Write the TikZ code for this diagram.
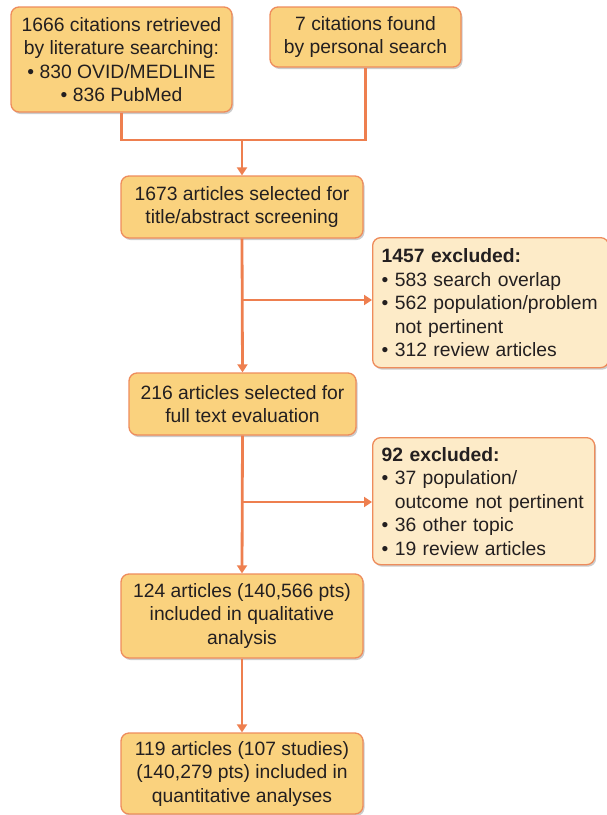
\documentclass[tikz,border=0pt]{standalone}
\usepackage{fontspec}
\setmainfont{Liberation Sans}
\usepackage{tikz}
\usepackage{xcolor}
\usetikzlibrary{arrows.meta,positioning,shadows}
\definecolor{gold}{HTML}{FAD27E}
\definecolor{cream}{HTML}{FDEBC8}
\definecolor{rim}{HTML}{EE8C5C}
\definecolor{flow}{HTML}{EE7F4F}
\definecolor{ink}{HTML}{231F20}
\tikzset{
  stagebox/.style={draw=rim,fill=gold,line width=1.3pt,rounded corners=8pt,
                   align=center,font=\fontsize{19.3}{23.5}\selectfont\color{ink},
                   inner sep=2pt,
                   drop shadow={shadow xshift=1.5pt,shadow yshift=-2pt,fill=black,opacity=0.2}},
  dropbox/.style={stagebox,fill=cream,align=left,anchor=north west,inner xsep=9pt,inner ysep=5pt},
  flowarr/.style={-{Triangle[length=8pt,width=10pt]},line width=2.8pt,color=flow},
  flowline/.style={line width=2.8pt,color=flow}
}
\newcommand{\bul}{\textbullet\ }
\newcommand{\hang}{\phantom{\textbullet\ }}
\begin{document}
\begin{tikzpicture}[x=1pt,y=-1pt]
  \useasboundingbox (0,0) rectangle (606,815);
  % sources
  \node[stagebox,minimum width=221,minimum height=105] (lit) at (121.5,59.5)
    {1666 citations retrieved\\by literature searching:\\\bul 830 OVID/MEDLINE\\\bul 836 PubMed};
  \node[stagebox,minimum width=191,minimum height=60] (own) at (365.5,37)
    {7 citations found\\by personal search};
  % screening chain
  \node[stagebox,minimum width=242,minimum height=62] (screen) at (242,207)
    {1673 articles selected for\\title/abstract screening};
  \node[stagebox,minimum width=227,minimum height=62] (fulltext) at (242.5,404)
    {216 articles selected for\\full text evaluation};
  \node[stagebox,minimum width=242,minimum height=84] (quali) at (242,616)
    {124 articles (140,566 pts)\\included in qualitative\\analysis};
  \node[stagebox,minimum width=242,minimum height=81] (quanti) at (242,773.5)
    {119 articles (107 studies)\\(140,279 pts) included in\\quantitative analyses};
  % exclusions
  \node[dropbox,text width=218,minimum height=130] (drop1) at (372,237)
    {\textbf{1457 excluded:}\\\bul 583 search overlap\\\bul 562 population/problem\\\hang not pertinent\\\bul 312 review articles};
  \node[dropbox,text width=204,minimum height=127] (drop2) at (372,437)
    {\textbf{92 excluded:}\\\bul 37 population/\\\hang outcome not pertinent\\\bul 36 other topic\\\bul 19 review articles};
  % connectors
  \coordinate (join) at (242,140);
  \coordinate (fork1) at (242,300);
  \coordinate (fork2) at (242,502);
  \draw[flowline] (lit.south) |- (join) -| (own.south);
  \draw[flowarr] (join) -- (screen.north);
  \draw[flowarr] (screen.south) -- (fulltext.north);
  \draw[flowarr] (fork1) -- (fork1 -| drop1.west);
  \draw[flowarr] (fulltext.south) -- (quali.north);
  \draw[flowarr] (fork2) -- (fork2 -| drop2.west);
  \draw[flowarr] (quali.south) -- (quanti.north);
\end{tikzpicture}
\end{document}
